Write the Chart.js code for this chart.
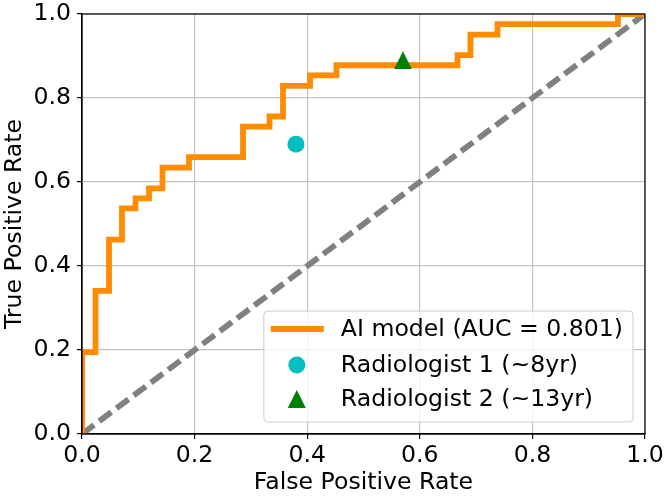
<!DOCTYPE html>
<html>
<head>
<meta charset="utf-8">
<script src="https://cdn.jsdelivr.net/npm/chart.js@4.4.0/dist/chart.umd.min.js"></script>
<style>
body{margin:0;background:#fff;}
#wrap{width:665px;height:499px;position:relative;}
</style>
</head>
<body>
<div id="wrap"><canvas id="roc"></canvas></div>
<script>
// curva ROC (esquinas de la escalera)
var fpr=[0,0,0.024,0.024,0.048,0.048,0.071,0.071,0.095,0.095,0.119,0.119,0.143,0.143,0.190,0.190,0.286,0.286,0.333,0.333,0.357,0.357,0.405,0.405,0.452,0.452,0.667,0.667,0.690,0.690,0.738,0.738,0.952,0.952,1.0];
var tpr=[0,0.195,0.195,0.341,0.341,0.463,0.463,0.537,0.537,0.561,0.561,0.585,0.585,0.634,0.634,0.659,0.659,0.732,0.732,0.756,0.756,0.829,0.829,0.854,0.854,0.878,0.878,0.902,0.902,0.951,0.951,0.976,0.976,1.0,1.0];
var azar_x=[0,1];
var azar_y=[0,1];
var rad1=[0.38,0.69];
var rad2=[0.57,0.89];
var etiquetas=['AI model (AUC = 0.801)','Radiologist 1 (~8yr)','Radiologist 2 (~13yr)'];
var marcas=[0,0.2,0.4,0.6,0.8,1.0];

var NARANJA='#ff8c00';
var CIAN='#00bfbf';
var VERDE='#008000';
var GRIS='#808080';
var LETRA=23.6;

function triangulo(ctx,x,y,s){
	ctx.beginPath();
	ctx.moveTo(x,y-s/2);
	ctx.lineTo(x+s/2,y+s/2);
	ctx.lineTo(x-s/2,y+s/2);
	ctx.closePath();
	ctx.fill();
}
var tri=document.createElement('canvas');
tri.width=18;tri.height=18;
var tctx=tri.getContext('2d');
tctx.fillStyle=VERDE;
triangulo(tctx,9,9,18);

var puntos=[];
for(var i=0;i<fpr.length;i++){
	puntos.push({x:fpr[i],y:tpr[i]});
}
var diagonal=[];
for(var i=0;i<azar_x.length;i++){
	diagonal.push({x:azar_x[i],y:azar_y[i]});
}

var marco={
	id:'marco',
	afterDraw:function(chart){
		var c=chart.ctx,a=chart.chartArea;
		c.save();
		c.strokeStyle='#000';
		c.lineWidth=1.2;
		c.strokeRect(a.left,a.top,a.right-a.left,a.bottom-a.top);
		c.restore();
	}
};

var leyenda={
	id:'leyenda',
	afterDraw:function(chart){
		var c=chart.ctx,a=chart.chartArea;
		c.save();
		c.font=LETRA+'px "DejaVu Sans"';
		var ancho=0;
		for(var i=0;i<etiquetas.length;i++){
			ancho=Math.max(ancho,c.measureText(etiquetas[i]).width);
		}
		var w=ancho+87,h=111;
		var x0=a.right-12-w,y0=a.bottom-12-h;
		c.beginPath();
		c.roundRect(x0,y0,w,h,4);
		c.fillStyle='rgba(255,255,255,0.8)';
		c.fill();
		c.strokeStyle='#cccccc';
		c.lineWidth=1;
		c.stroke();
		var fila=[18,54,88];
		for(var i=0;i<etiquetas.length;i++){
			var yy=y0+fila[i];
			if(i==0){
				c.strokeStyle=NARANJA;
				c.lineWidth=5.8;
				c.beginPath();
				c.moveTo(x0+7,yy);
				c.lineTo(x0+60,yy);
				c.stroke();
			}else if(i==1){
				c.fillStyle=CIAN;
				c.beginPath();
				c.arc(x0+33,yy,8.5,0,Math.PI*2);
				c.fill();
			}else{
				c.fillStyle=VERDE;
				triangulo(c,x0+33,yy,18);
			}
			c.fillStyle='#000';
			c.textBaseline='middle';
			c.fillText(etiquetas[i],x0+77,yy+1);
		}
		c.restore();
	}
};

Chart.defaults.font.family='"DejaVu Sans"';
Chart.defaults.font.size=LETRA;
Chart.defaults.color='#000';

var ctx=document.getElementById('roc').getContext('2d');
var grafico=new Chart(ctx,{
	type:'scatter',
	data:{
		datasets:[
			{
				label:etiquetas[1],
				data:[{x:rad1[0],y:rad1[1]}],
				pointStyle:'circle',
				pointRadius:8.5,
				pointBackgroundColor:CIAN,
				pointBorderWidth:0,
				order:0
			},
			{
				label:etiquetas[2],
				data:[{x:rad2[0],y:rad2[1]}],
				pointStyle:tri,
				pointRadius:9,
				order:0
			},
			{
				label:etiquetas[0],
				data:puntos,
				showLine:true,
				borderColor:NARANJA,
				borderWidth:5.8,
				pointRadius:0,
				borderJoinStyle:'miter',
				clip:0,
				order:1
			},
			{
				label:'azar',
				data:diagonal,
				showLine:true,
				borderColor:GRIS,
				borderWidth:5.8,
				borderDash:[15,6.5],
				pointRadius:0,
				clip:0,
				order:2
			}
		]
	},
	options:{
		responsive:true,
		maintainAspectRatio:false,
		animation:false,
		layout:{padding:{top:14,right:20,left:0,bottom:0}},
		plugins:{
			legend:{display:false},
			tooltip:{enabled:false}
		},
		scales:{
			x:{
				type:'linear',
				min:0,max:1,
				afterBuildTicks:function(s){ s.ticks=marcas.map(function(v){return {value:v};}); },
				afterFit:function(s){ s.height=65; s.paddingLeft=0; s.paddingRight=0; },
				ticks:{
					callback:function(v){ return Number(v).toFixed(1); },
					maxRotation:0,
					autoSkip:false,
					padding:3
				},
				grid:{color:'#c4c4c4',lineWidth:1.2,tickLength:5,tickColor:'#000',tickWidth:1.2},
				border:{display:true,color:'#000',width:1.2},
				title:{display:true,text:'False Positive Rate',padding:{top:0,bottom:2}}
			},
			y:{
				type:'linear',
				min:0,max:1,
				afterBuildTicks:function(s){ s.ticks=marcas.map(function(v){return {value:v};}); },
				afterFit:function(s){ s.width=82; s.paddingTop=0; s.paddingBottom=0; },
				ticks:{
					callback:function(v){ return Number(v).toFixed(1); },
					autoSkip:false,
					padding:6
				},
				grid:{color:'#c4c4c4',lineWidth:1.2,tickLength:5,tickColor:'#000',tickWidth:1.2},
				border:{display:true,color:'#000',width:1.2},
				title:{display:true,text:'True Positive Rate',padding:{top:1,bottom:0}}
			}
		}
	},
	plugins:[marco,leyenda]
});
</script>
</body>
</html>
